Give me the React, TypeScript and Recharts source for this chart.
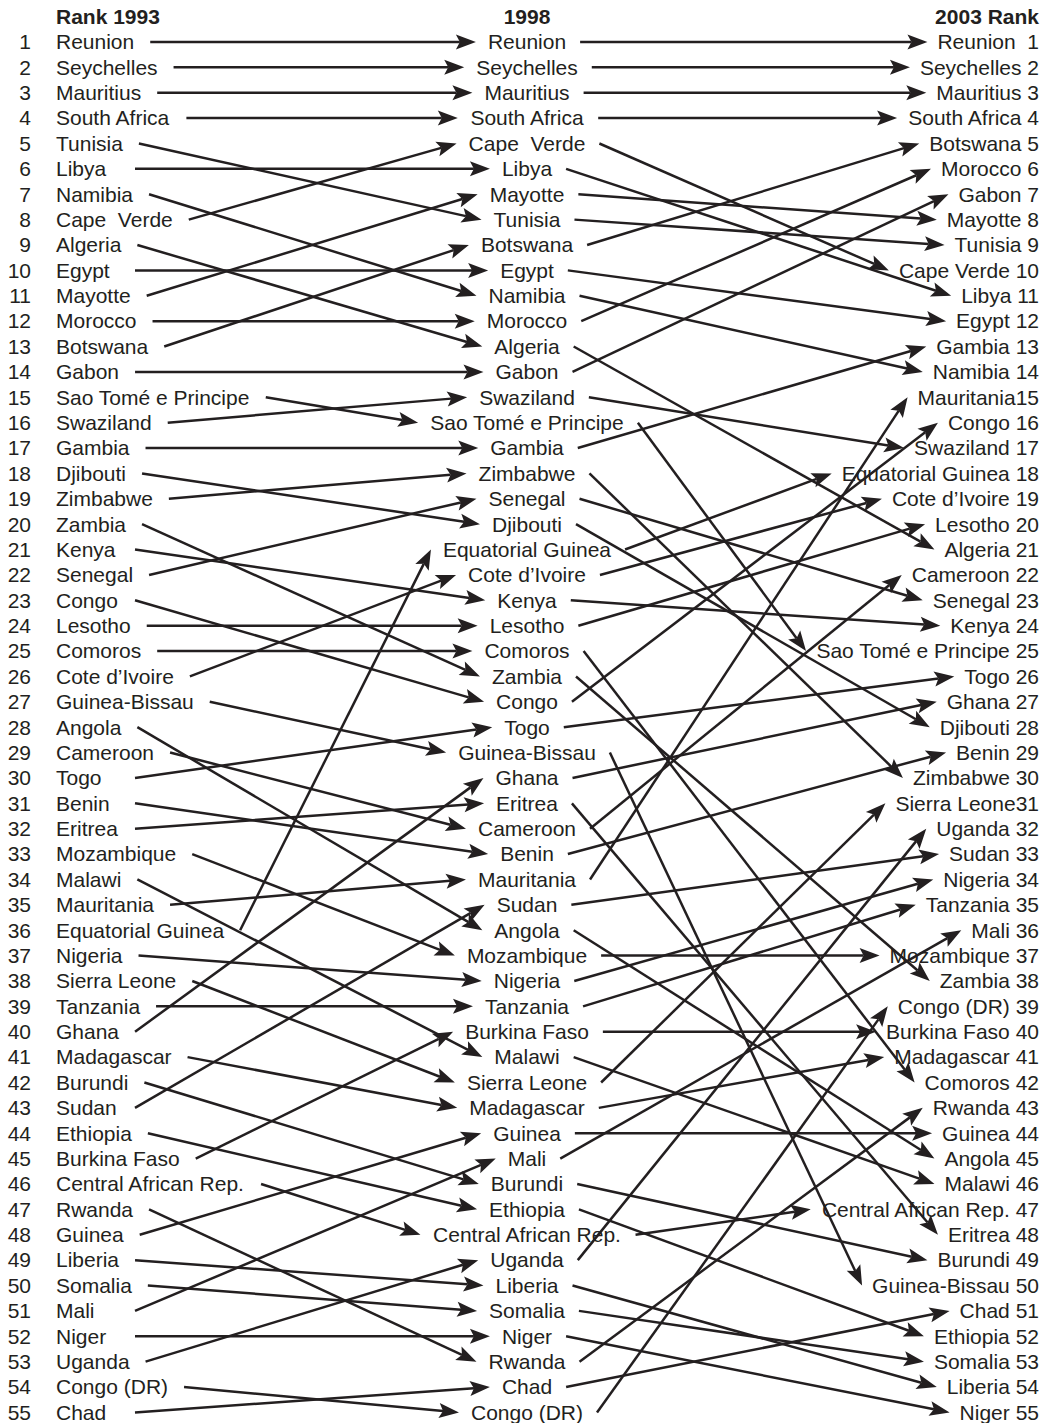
import React, { useMemo } from 'react'
import { ComposedChart, XAxis, YAxis, Scatter, ReferenceLine } from 'recharts'

const headers = ['Rank 1993', '1998', '2003 Rank']

const rank1993 = [
  'Reunion', 'Seychelles', 'Mauritius', 'South Africa', 'Tunisia', 'Libya', 'Namibia', 'Cape  Verde',
  'Algeria', 'Egypt', 'Mayotte', 'Morocco', 'Botswana', 'Gabon', 'Sao Tomé e Principe', 'Swaziland',
  'Gambia', 'Djibouti', 'Zimbabwe', 'Zambia', 'Kenya', 'Senegal', 'Congo', 'Lesotho', 'Comoros',
  'Cote d\u2019Ivoire', 'Guinea-Bissau', 'Angola', 'Cameroon', 'Togo', 'Benin', 'Eritrea', 'Mozambique',
  'Malawi', 'Mauritania', 'Equatorial Guinea', 'Nigeria', 'Sierra Leone', 'Tanzania', 'Ghana',
  'Madagascar', 'Burundi', 'Sudan', 'Ethiopia', 'Burkina Faso', 'Central African Rep.', 'Rwanda',
  'Guinea', 'Liberia', 'Somalia', 'Mali', 'Niger', 'Uganda', 'Congo (DR)', 'Chad',
]

const rank1998 = [
  'Reunion', 'Seychelles', 'Mauritius', 'South Africa', 'Cape  Verde', 'Libya', 'Mayotte', 'Tunisia',
  'Botswana', 'Egypt', 'Namibia', 'Morocco', 'Algeria', 'Gabon', 'Swaziland', 'Sao Tomé e Principe',
  'Gambia', 'Zimbabwe', 'Senegal', 'Djibouti', 'Equatorial Guinea', 'Cote d\u2019Ivoire', 'Kenya',
  'Lesotho', 'Comoros', 'Zambia', 'Congo', 'Togo', 'Guinea-Bissau', 'Ghana', 'Eritrea', 'Cameroon',
  'Benin', 'Mauritania', 'Sudan', 'Angola', 'Mozambique', 'Nigeria', 'Tanzania', 'Burkina Faso',
  'Malawi', 'Sierra Leone', 'Madagascar', 'Guinea', 'Mali', 'Burundi', 'Ethiopia', 'Central African Rep.',
  'Uganda', 'Liberia', 'Somalia', 'Niger', 'Rwanda', 'Chad', 'Congo (DR)',
]

const rank2003 = [
  'Reunion', 'Seychelles', 'Mauritius', 'South Africa', 'Botswana', 'Morocco', 'Gabon', 'Mayotte',
  'Tunisia', 'Cape Verde', 'Libya', 'Egypt', 'Gambia', 'Namibia', 'Mauritania', 'Congo', 'Swaziland',
  'Equatorial Guinea', 'Cote d\u2019Ivoire', 'Lesotho', 'Algeria', 'Cameroon', 'Senegal', 'Kenya',
  'Sao Tomé e Principe', 'Togo', 'Ghana', 'Djibouti', 'Benin', 'Zimbabwe', 'Sierra Leone', 'Uganda',
  'Sudan', 'Nigeria', 'Tanzania', 'Mali', 'Mozambique', 'Zambia', 'Congo (DR)', 'Burkina Faso',
  'Madagascar', 'Comoros', 'Rwanda', 'Guinea', 'Angola', 'Malawi', 'Central African Rep.', 'Eritrea',
  'Burundi', 'Guinea-Bissau', 'Chad', 'Ethiopia', 'Somalia', 'Liberia', 'Niger',
]

// spacing quirks between name and rank in the 2003 column
const rankSep: Record<string, string> = { Reunion: '  ', Mauritania: '', 'Sierra Leone': '' }

const W = 1050
const H = 1423
const FONT_SIZE = 21
const FONT = '"Liberation Sans", Arial, Helvetica, sans-serif'
const INK = '#231f20'

// x axis runs 0..W with no margin, so x units are pixels
const NUM_RIGHT = 31
const LEFT_X = 56
const MID_X = 527
const RIGHT_X = 1039

const key = (s: string) => s.replace(/\s+/g, ' ')

let ctx: CanvasRenderingContext2D | null = null
function textWidth(s: string, bold = false) {
  if (!ctx) ctx = document.createElement('canvas').getContext('2d')
  if (!ctx) return s.length * FONT_SIZE * 0.55
  ctx.font = `${bold ? 'bold ' : ''}${FONT_SIZE}px ${FONT}`
  return ctx.measureText(s).width
}

const labelShape = (anchor: 'start' | 'middle' | 'end', bold = false) => (p: any) => (
  <text
    x={p.cx}
    y={p.cy + FONT_SIZE * 0.35}
    textAnchor={anchor}
    fontSize={FONT_SIZE}
    fontFamily={FONT}
    fontWeight={bold ? 700 : 400}
    fill={INK}
    style={{ whiteSpace: 'pre' }}
  >
    {p.payload.label}
  </text>
)

function Arrow(props: any) {
  const { x1, y1, x2, y2 } = props
  const dx = x2 - x1
  const dy = y2 - y1
  const len = Math.hypot(dx, dy) || 1
  const ux = dx / len
  const uy = dy / len
  const L = 20
  const HW = 7.5
  const N = 4
  const bx = x2 - ux * L
  const by = y2 - uy * L
  const nx = x2 - ux * (L - N)
  const ny = y2 - uy * (L - N)
  const pts = [
    [x2, y2],
    [bx - uy * HW, by + ux * HW],
    [nx, ny],
    [bx + uy * HW, by - ux * HW],
  ]
    .map((p) => p.join(','))
    .join(' ')
  return (
    <g>
      <line x1={x1} y1={y1} x2={nx} y2={ny} stroke={INK} strokeWidth={2.5} />
      <polygon points={pts} fill={INK} />
    </g>
  )
}

export default function App() {
  const rightLabels = rank2003.map((n, i) => `${n}${rankSep[n] ?? ' '}${i + 1}`)

  const headData = [
    { x: LEFT_X, y: 0, label: headers[0] },
    { x: MID_X, y: 0, label: headers[1] },
    { x: RIGHT_X, y: 0, label: headers[2] },
  ]
  const numData = rank1993.map((_, i) => ({ x: NUM_RIGHT, y: i + 1, label: String(i + 1) }))
  const leftData = rank1993.map((n, i) => ({ x: LEFT_X, y: i + 1, label: n }))
  const midData = rank1998.map((n, i) => ({ x: MID_X, y: i + 1, label: n }))
  const rightData = rightLabels.map((n, i) => ({ x: RIGHT_X, y: i + 1, label: n }))

  const arrows = useMemo(() => {
    const out: { x1: number; y1: number; x2: number; y2: number }[] = []
    rank1993.forEach((n, i) => {
      const j = rank1998.findIndex((m) => key(m) === key(n))
      out.push({
        x1: Math.max(LEFT_X + textWidth(n) + 16, 135),
        y1: i + 1,
        x2: MID_X - textWidth(rank1998[j]) / 2 - 12,
        y2: j + 1,
      })
    })
    rank1998.forEach((n, j) => {
      const k = rank2003.findIndex((m) => key(m) === key(n))
      out.push({
        x1: MID_X + textWidth(n) / 2 + 14,
        y1: j + 1,
        x2: RIGHT_X - textWidth(rightLabels[k]) - 10,
        y2: k + 1,
      })
    })
    return out
  }, [])

  return (
    <div style={{ position: 'absolute', left: 0, top: 0, background: '#fff' }}>
      <ComposedChart width={W} height={H} margin={{ top: 16.6, right: 0, bottom: 10.6, left: 0 }}>
        <XAxis type="number" dataKey="x" domain={[0, W]} hide />
        <YAxis type="number" dataKey="y" domain={[0, 55]} reversed hide />
        {arrows.map((a, i) => (
          <ReferenceLine
            key={i}
            segment={[
              { x: a.x1, y: a.y1 },
              { x: a.x2, y: a.y2 },
            ]}
            shape={Arrow}
          />
        ))}
        <Scatter data={headData.slice(0, 1)} shape={labelShape('start', true)} isAnimationActive={false} />
        <Scatter data={headData.slice(1, 2)} shape={labelShape('middle', true)} isAnimationActive={false} />
        <Scatter data={headData.slice(2)} shape={labelShape('end', true)} isAnimationActive={false} />
        <Scatter data={numData} shape={labelShape('end')} isAnimationActive={false} />
        <Scatter data={leftData} shape={labelShape('start')} isAnimationActive={false} />
        <Scatter data={midData} shape={labelShape('middle')} isAnimationActive={false} />
        <Scatter data={rightData} shape={labelShape('end')} isAnimationActive={false} />
      </ComposedChart>
    </div>
  )
}
